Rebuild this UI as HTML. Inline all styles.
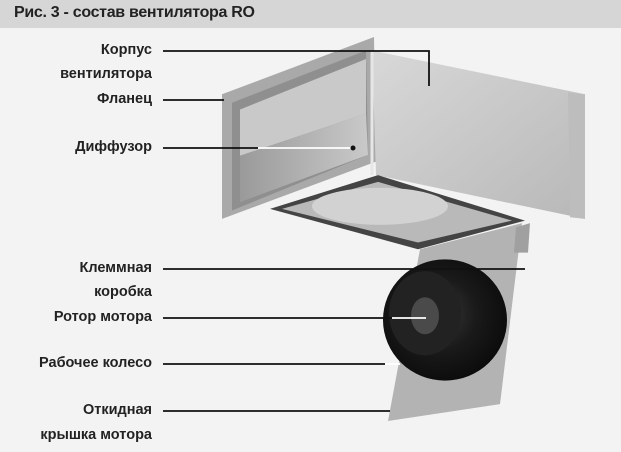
<!DOCTYPE html>
<html><head><meta charset="utf-8"><style>
html,body{margin:0;padding:0;}
body{width:621px;height:452px;background:#f3f3f3;position:relative;overflow:hidden;font-family:"Liberation Sans",sans-serif;}
.hdr{position:absolute;left:0;top:0;width:621px;height:28px;background:#d6d6d6;}
.hdr span{position:absolute;left:14px;top:4px;font-size:16px;font-weight:bold;color:#222;letter-spacing:-0.3px;}
.lb{position:absolute;right:469px;font-size:14.5px;font-weight:bold;color:#222;white-space:nowrap;text-align:right;}
svg{position:absolute;left:0;top:0;}
</style></head><body>
<div class="hdr"><span>Рис. 3 - состав вентилятора RO</span></div>
<svg width="621" height="452" viewBox="0 0 621 452">
<defs>
<linearGradient id="g1" x1="0" y1="0" x2="1" y2="1"><stop offset="0" stop-color="#d8d8d8"/><stop offset="1" stop-color="#b8b8b8"/></linearGradient>
<linearGradient id="g2" x1="0" y1="0" x2="1" y2="0"><stop offset="0" stop-color="#9a9a9a"/><stop offset="1" stop-color="#c9c9c9"/></linearGradient>
<radialGradient id="g3" cx="0.45" cy="0.45" r="0.6"><stop offset="0" stop-color="#3a3a3a"/><stop offset="0.5" stop-color="#1a1a1a"/><stop offset="1" stop-color="#0a0a0a"/></radialGradient>
</defs>
<g transform="scale(1,0.842)">
<polygon points="222,112 374,44 376,192 222,260" fill="#a9a9a9"/>
<polygon points="232,122 366,60 368,184 232,250" fill="#8f8f8f"/>
<polygon points="240,130 366,70 366,135 240,185" fill="#c9c9c9"/>
<polygon points="240,185 366,135 368,184 240,240" fill="url(#g2)"/>
<polygon points="372,60 585,112 585,260 376,208" fill="url(#g1)"/>
<polygon points="568,110 585,112 585,260 570,258" fill="#bdbdbd"/>
<line x1="372" y1="60" x2="372" y2="208" stroke="#e6e6e6" stroke-width="3"/>
<polygon points="270,248 378,208 525,262 418,296" fill="#444"/>
<polygon points="282,248 378,216 512,262 418,288" fill="#b9b9b9"/>
<ellipse cx="380" cy="245" rx="68" ry="22" fill="#d2d2d2"/>
<polygon points="420,296 522,265 500,480 388,500" fill="#b3b3b3"/>
<polygon points="516,270 530,265 528,300 514,300" fill="#a0a0a0"/>
<ellipse cx="445" cy="380" rx="62" ry="72" fill="url(#g3)"/>
<ellipse cx="425" cy="372" rx="36" ry="50" fill="#222"/>
<ellipse cx="425" cy="375" rx="14" ry="22" fill="#4a4a4a"/>
</g>
<g stroke="#111" stroke-width="1.8" fill="none">
<polyline points="163,51 429,51 429,86"/>
<line x1="163" y1="100" x2="224" y2="100"/>
<line x1="163" y1="148" x2="258" y2="148"/>
<line x1="163" y1="269" x2="525" y2="269"/>
<line x1="163" y1="318" x2="392" y2="318"/>
<line x1="163" y1="364" x2="385" y2="364"/>
<line x1="163" y1="411" x2="390" y2="411"/>
</g>
<g stroke="#fff" stroke-width="1.8">
<line x1="258" y1="148" x2="352" y2="148"/>
<line x1="392" y1="318" x2="426" y2="318"/>
<line x1="385" y1="364" x2="400" y2="364"/>
</g>
<circle cx="353" cy="148" r="2.5" fill="#111"/>
</svg>
<div class="lb" style="top:42px">Корпус</div>
<div class="lb" style="top:66px">вентилятора</div>
<div class="lb" style="top:91px">Фланец</div>
<div class="lb" style="top:139px">Диффузор</div>
<div class="lb" style="top:260px">Клеммная</div>
<div class="lb" style="top:284px">коробка</div>
<div class="lb" style="top:309px">Ротор мотора</div>
<div class="lb" style="top:355px">Рабочее колесо</div>
<div class="lb" style="top:402px">Откидная</div>
<div class="lb" style="top:427px">крышка мотора</div>
</body></html>
